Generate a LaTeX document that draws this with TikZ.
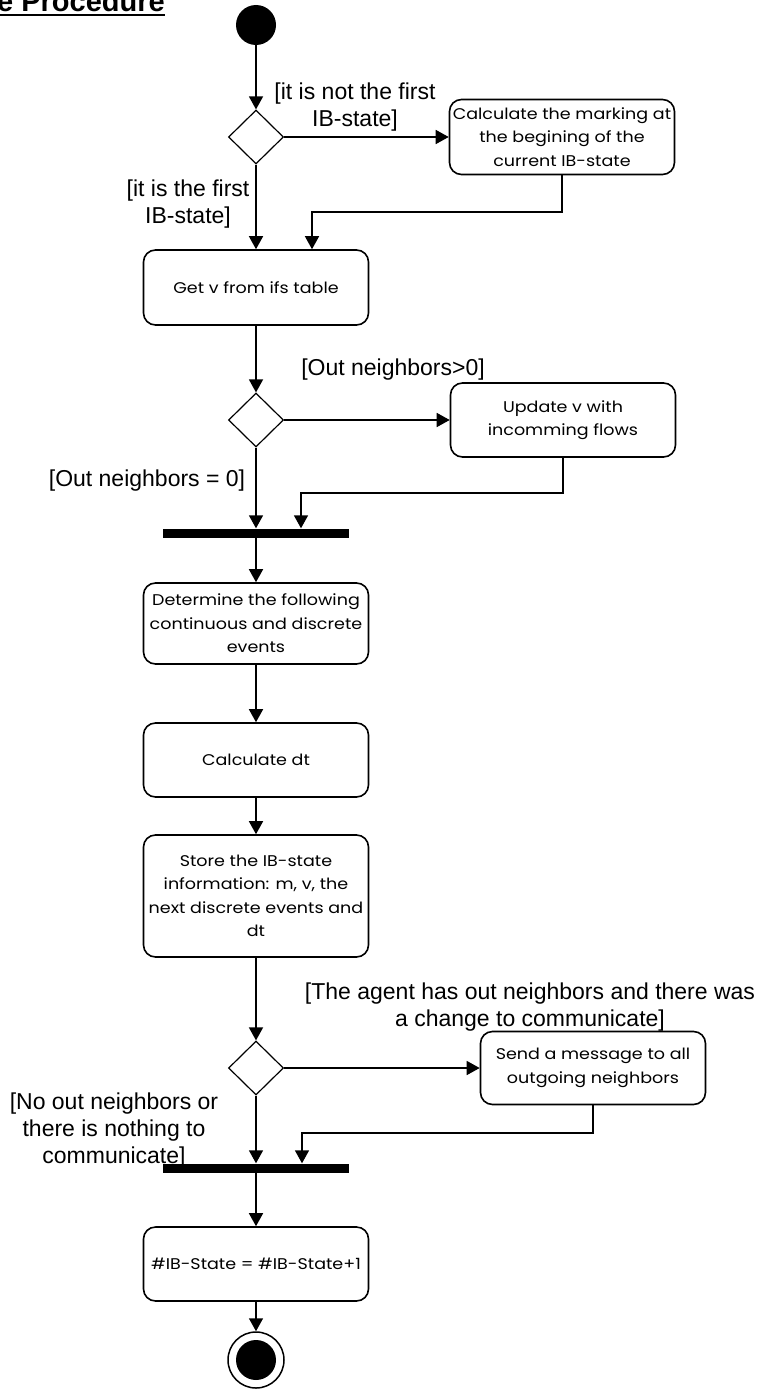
\documentclass[tikz,border=0pt]{standalone}
\usepackage{fontspec}
\setmainfont{Liberation Sans}
\newfontfamily\boxfont[FakeStretch=1.13]{Poppins}
\usetikzlibrary{arrows.meta,shapes.geometric}

\begin{document}
\begin{tikzpicture}[x=1pt,y=-1pt,
  flow/.style={line width=1.5pt,-{Triangle[length=13pt,width=14pt]}},
  activity/.style={draw,line width=1.6pt,rounded corners=12pt,minimum width=225pt,
    minimum height=75pt,align=center,inner sep=0pt,
    font=\boxfont\fontsize{15.5}{23.5}\selectfont},
  decision/.style={draw,diamond,line width=1.2pt,minimum width=55pt,minimum height=54pt,inner sep=0pt},
  guard/.style={align=center,inner sep=0pt,anchor=north,font=\fontsize{23}{27}\selectfont},
  syncbar/.style={fill=black,inner sep=0pt,minimum width=186pt,minimum height=9pt},
]
\useasboundingbox (0,0) rectangle (760,1389);
\clip (0,0) rectangle (760,1389);

% heading (cut at the top edge)
\node[anchor=base west,inner sep=0pt,font=\bfseries\fontsize{29}{29}\selectfont] (title) at (-3,12) {e Procedure};
\coordinate (ul) at (0,15);
\draw[line width=2.5pt] (ul) -- (ul -| title.east);

% initial node
\node[circle,fill=black,minimum size=40pt,inner sep=0pt] (start) at (256,25) {};

% first decision and its branches
\node[decision] (d1) at (256,137) {};
\node[activity] (a1) at (562,137) {Calculate the marking at\\the begining of the\\current IB-state};
\node[activity] (a2) at (256,287.5) {Get v from ifs table};
\coordinate (j1) at (312,212);

% second decision
\node[decision] (d2) at (256,420) {};
\node[activity,minimum height=74pt] (a3) at (563,420) {Update v with\\incomming flows};
\coordinate (j2) at (301,493);
\node[syncbar] (b1) at (256,533) {};

% main sequence
\node[activity,minimum height=81pt] (a4) at (256,623.5) {Determine the following\\continuous and discrete\\events};
\node[activity,minimum height=74pt] (a5) at (256,760) {Calculate dt};
\node[activity,minimum height=122pt] (a6) at (256,896) {Store the IB-state\\information: m, v, the\\next discrete events and\\dt};

% third decision
\node[decision] (d3) at (256,1068) {};
\node[activity,minimum height=73pt] (a7) at (593,1068) {Send a message to all\\outgoing neighbors};
\coordinate (j3) at (302,1133);
\node[syncbar] (b2) at (256,1168) {};

% final steps
\node[activity,minimum height=74pt] (a8) at (256,1264) {\#IB-State = \#IB-State+1};
\node[circle,draw,line width=1.5pt,minimum size=56pt,inner sep=0pt] (end) at (256,1360) {};
\node[circle,fill=black,minimum size=40pt,inner sep=0pt] (endcore) at (end.center) {};

% guards
\node[guard] (g1) at (355,83) {[it is not the first\\IB-state]};
\node[guard] (g2) at (188,180) {[it is the first\\IB-state]};
\node[guard] (g3) at (393,359) {[Out neighbors>0]};
\node[guard] (g4) at (147,470) {[Out neighbors = 0]};
\node[guard] (g5) at (530,983) {[The agent has out neighbors and there was\\a change to communicate]};
\node[guard] (g6) at (114,1093) {[No out neighbors or\\there is nothing to\\communicate]};

% flows
\draw[flow] (start) -- (d1);
\draw[flow] (d1) -- (a1);
\draw[flow] (d1) -- (a2);
\draw[flow] (a1.south) |- (j1) -- (j1 |- a2.north);
\draw[flow] (a2) -- (d2);
\draw[flow] (d2) -- (a3);
\draw[flow] (d2) -- (d2 |- b1.north);
\draw[flow] (a3.south) |- (j2) -- (j2 |- b1.north);
\draw[flow] (b1) -- (a4);
\draw[flow] (a4) -- (a5);
\draw[flow] (a5) -- (a6);
\draw[flow] (a6) -- (d3);
\draw[flow] (d3) -- (a7);
\draw[flow] (d3) -- (d3 |- b2.north);
\draw[flow] (a7.south) |- (j3) -- (j3 |- b2.north);
\draw[flow] (b2) -- (a8);
\draw[flow] (a8) -- (end);
\end{tikzpicture}
\end{document}
